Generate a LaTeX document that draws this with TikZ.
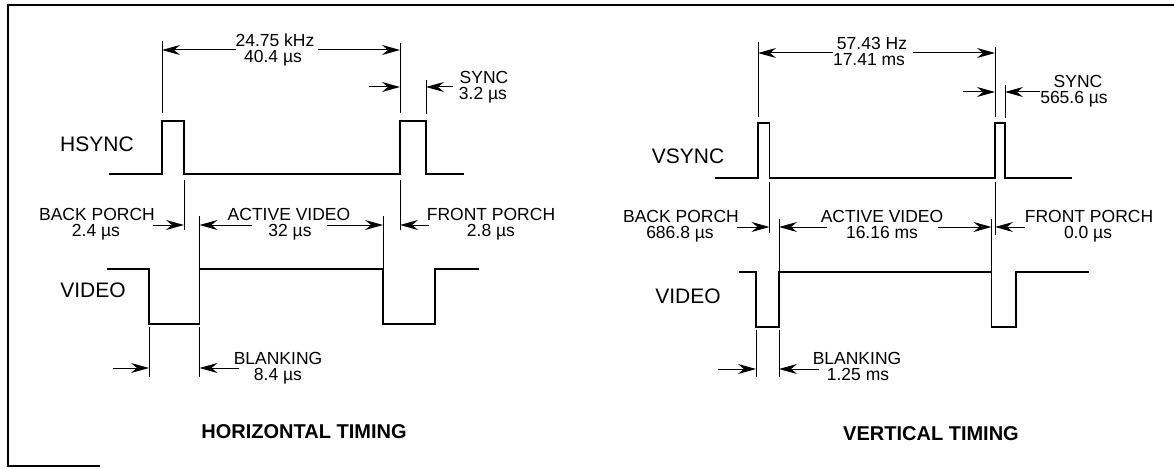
\documentclass[tikz,border=0pt]{standalone}
\usepackage{fontspec}
\setmainfont{Liberation Sans}
\usetikzlibrary{arrows.meta}
\begin{document}
\begin{tikzpicture}[x=1pt,y=-1pt,
  frame/.style={line width=2.6pt},
  wave/.style={line width=1.9pt, line join=miter},
  ext/.style={line width=0.9pt},
  dim/.style={line width=1pt, -{Stealth[length=18pt,width=10pt,inset=6pt]}},
  lbl/.style={inner sep=0pt, anchor=base, font=\fontsize{17.5}{17.5}\selectfont},
  sig/.style={inner sep=0pt, anchor=base, font=\fontsize{21}{21}\selectfont},
  ttl/.style={inner sep=0pt, anchor=base, font=\bfseries\fontsize{20}{20}\selectfont}]
\useasboundingbox (0,0) rectangle (1174,468);
% ---------------- frame
\coordinate (fBL) at (100,466); \coordinate (fL) at (8,466);
\coordinate (fTL) at (8,5); \coordinate (fTR) at (1174,5);
\draw[frame] (fBL) -- (fL) -- (fTL) -- (fTR);

% ================= HORIZONTAL TIMING
% labels
\node[lbl] (hTop1) at (275,47) {24.75 kHz};
\node[lbl] (hTop2) at (273,63) {40.4 µs};
\node[lbl] (hSync1) at (484,84) {SYNC};
\node[lbl] (hSync2) at (483,100) {3.2 µs};
\node[sig] (hsync) at (97,151) {HSYNC};
\node[lbl] (hBP1) at (97,220) {BACK PORCH};
\node[lbl] (hBP2) at (96,236) {2.4 µs};
\node[lbl] (hAV1) at (289,220) {ACTIVE VIDEO};
\node[lbl] (hAV2) at (290,236) {32 µs};
\node[lbl] (hFP1) at (491,220) {FRONT PORCH};
\node[lbl] (hFP2) at (491,236) {2.8 µs};
\node[sig] (hvideo) at (93,297) {VIDEO};
\node[lbl] (hBL1) at (278,364) {BLANKING};
\node[lbl] (hBL2) at (278,380) {8.4 µs};
\node[ttl] (htitle) at (304,438) {HORIZONTAL TIMING};

% waveforms
\draw[wave] (109,174) -- (162,174) -- (162,121) -- (184,121) -- (184,174)
  -- (400,174) -- (400,121) -- (426,121) -- (426,174) -- (464,174);
\draw[wave] (107,269) -- (149,269) -- (149,324) -- (199.5,324) -- (199.5,269)
  -- (383,269) -- (383,324) -- (435,324) -- (435,269) -- (479,269);

% extension lines
\coordinate (hE1a) at (162,41);  \coordinate (hE1b) at (162,113);
\coordinate (hE2a) at (400,43);  \coordinate (hE2b) at (400,113);
\coordinate (hE3a) at (426,80);  \coordinate (hE3b) at (426,114);
\coordinate (hE4a) at (184,180); \coordinate (hE4b) at (184,230);
\coordinate (hE5a) at (400,180); \coordinate (hE5b) at (400,230);
\coordinate (hE6a) at (199.5,216); \coordinate (hE6b) at (199.5,269);
\coordinate (hE7a) at (383,216); \coordinate (hE7b) at (383,269);
\coordinate (hE8a) at (149,327); \coordinate (hE8b) at (149,377);
\coordinate (hE9a) at (199.5,327); \coordinate (hE9b) at (199.5,377);
\foreach \p in {1,...,9} \draw[ext] (hE\p a) -- (hE\p b);

% dimension arrows
\coordinate (hA1s) at (236,50);  \coordinate (hA1t) at (162,50);
\coordinate (hA2s) at (318,50);  \coordinate (hA2t) at (400,50);
\coordinate (hA3s) at (369,87);  \coordinate (hA3t) at (400,87);
\coordinate (hA4s) at (453,87);  \coordinate (hA4t) at (426,87);
\coordinate (hA5s) at (153,225); \coordinate (hA5t) at (184,225);
\coordinate (hA6s) at (252,225); \coordinate (hA6t) at (199.5,225);
\coordinate (hA7s) at (327,225); \coordinate (hA7t) at (383,225);
\coordinate (hA8s) at (429,225); \coordinate (hA8t) at (400,225);
\coordinate (hA9s) at (113,368); \coordinate (hA9t) at (149,368);
\coordinate (hA10s) at (239,368); \coordinate (hA10t) at (199.5,368);
\foreach \p in {1,...,10} \draw[dim] (hA\p s) -- (hA\p t);

% ================= VERTICAL TIMING
\node[lbl] (vTop1) at (872,50) {57.43 Hz};
\node[lbl] (vTop2) at (869,66) {17.41 ms};
\node[lbl] (vSync1) at (1078,88) {SYNC};
\node[lbl] (vSync2) at (1074,104) {565.6 µs};
\node[sig] (vsync) at (688,163) {VSYNC};
\node[lbl] (vBP1) at (681,222) {BACK PORCH};
\node[lbl] (vBP2) at (680,238) {686.8 µs};
\node[lbl] (vAV1) at (882,222) {ACTIVE VIDEO};
\node[lbl] (vAV2) at (882,238) {16.16 ms};
\node[lbl] (vFP1) at (1089,222) {FRONT PORCH};
\node[lbl] (vFP2) at (1088,238) {0.0 µs};
\node[sig] (vvideo) at (688,303) {VIDEO};
\node[lbl] (vBL1) at (857,364) {BLANKING};
\node[lbl] (vBL2) at (858,380) {1.25 ms};
\node[ttl] (vtitle) at (931,440) {VERTICAL TIMING};

\draw[wave] (715,178) -- (758,178) -- (758,123) -- (769.5,123) -- (769.5,178)
  -- (995,178) -- (995,123) -- (1005,123) -- (1005,178) -- (1072,178);
\draw[wave] (739,272) -- (756,272) -- (756,327) -- (779,327) -- (779,272)
  -- (991.5,272) -- (991.5,327) -- (1016,327) -- (1016,272) -- (1089,272);

\coordinate (vE1a) at (758,42);   \coordinate (vE1b) at (758,117);
\coordinate (vE2a) at (995,47);   \coordinate (vE2b) at (995,117);
\coordinate (vE3a) at (1005,85);  \coordinate (vE3b) at (1005,118);
\coordinate (vE4a) at (769.5,182); \coordinate (vE4b) at (769.5,233);
\coordinate (vE5a) at (779,219);  \coordinate (vE5b) at (779,272);
\coordinate (vE6a) at (995,182);  \coordinate (vE6b) at (995,235);
\coordinate (vE7a) at (991.5,219); \coordinate (vE7b) at (991.5,272);
\coordinate (vE8a) at (756,330);  \coordinate (vE8b) at (756,377);
\coordinate (vE9a) at (779,330);  \coordinate (vE9b) at (779,377);
\foreach \p in {1,...,9} \draw[ext] (vE\p a) -- (vE\p b);

\coordinate (vA1s) at (833,53);   \coordinate (vA1t) at (758,53);
\coordinate (vA2s) at (913,53);   \coordinate (vA2t) at (995,53);
\coordinate (vA3s) at (963,92);   \coordinate (vA3t) at (995,92);
\coordinate (vA4s) at (1040,92);  \coordinate (vA4t) at (1005,92);
\coordinate (vA5s) at (737,227);  \coordinate (vA5t) at (769.5,227);
\coordinate (vA6s) at (827,227);  \coordinate (vA6t) at (779,227);
\coordinate (vA7s) at (938,227);  \coordinate (vA7t) at (991.5,227);
\coordinate (vA8s) at (1025,227); \coordinate (vA8t) at (995,227);
\coordinate (vA9s) at (718,369);  \coordinate (vA9t) at (756,369);
\coordinate (vA10s) at (819,369); \coordinate (vA10t) at (779,369);
\foreach \p in {1,...,10} \draw[dim] (vA\p s) -- (vA\p t);
\end{tikzpicture}
\end{document}
